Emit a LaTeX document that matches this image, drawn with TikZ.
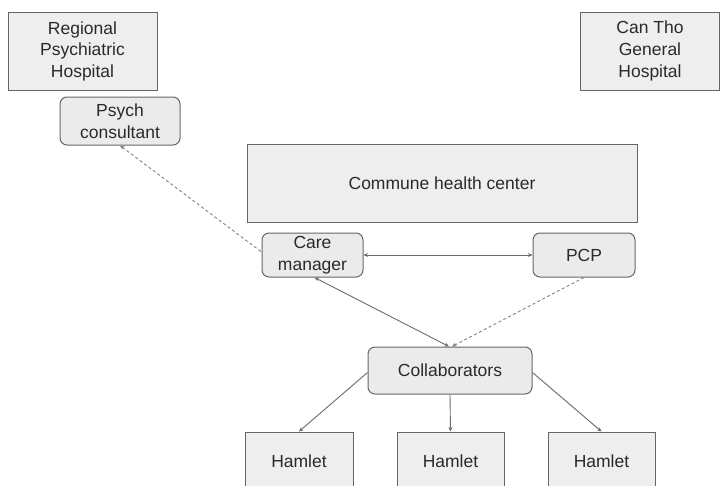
\documentclass[tikz,border=0pt]{standalone}
\usepackage{fontspec}
\setmainfont{Liberation Sans}
\usetikzlibrary{arrows.meta}
\definecolor{boxfill}{HTML}{EEEEEE}
\definecolor{rfill}{HTML}{EBEBEB}
\definecolor{edge}{HTML}{666666}
\definecolor{txt}{HTML}{2A2A2A}
\definecolor{conn}{HTML}{6A6A6A}
\tikzset{
  sqbox/.style={draw=edge, fill=boxfill, line width=1pt, text=txt, align=center, inner sep=0pt, font=\fontsize{17.5}{22}\selectfont},
  rbox/.style={sqbox, fill=rfill, rounded corners=7pt},
  link/.style={draw=conn, line width=0.9pt, -{Stealth[length=4.5pt,width=4pt]}},
  dlink/.style={link, dash pattern=on 3pt off 2.5pt, draw=conn!85},
}
\begin{document}
\begin{tikzpicture}[x=1pt,y=-1pt]
\useasboundingbox (0,0) rectangle (723,485);
\node[sqbox, minimum width=149pt, minimum height=78pt] (rph) at (82.5,51) {\raisebox{-1pt}{Regional}\\Psychiatric\\Hospital};
\node[rbox, minimum width=120pt, minimum height=48pt] (psych) at (120,121) {Psych\\consultant};
\node[sqbox, minimum width=139pt, minimum height=78pt] (cantho) at (650,51) {Can Tho\\General\\Hospital};
\node[sqbox, minimum width=390pt, minimum height=78pt] (chc) at (442,183) {Commune health center};
\node[rbox, minimum width=101pt, minimum height=44pt] (care) at (312.5,255) {Care\\manager};
\node[rbox, minimum width=102pt, minimum height=44pt] (pcp) at (584,255) {PCP};
\node[rbox, minimum width=164pt, minimum height=47pt] (coll) at (450,370.5) {Collaborators};
\node[sqbox, minimum width=108pt, minimum height=64pt] (h1) at (299,464) {\raisebox{5pt}{Hamlet}};
\node[sqbox, minimum width=107pt, minimum height=64pt] (h2) at (450.5,464) {\raisebox{5pt}{Hamlet}};
\node[sqbox, minimum width=107pt, minimum height=64pt] (h3) at (601.5,464) {\raisebox{5pt}{Hamlet}};
\draw[link, {Stealth[length=4.5pt,width=4pt]}-{Stealth[length=4.5pt,width=4pt]}] (care) -- (pcp);
\draw[link, {Stealth[length=4.5pt,width=4pt]}-{Stealth[length=4.5pt,width=4pt]}] ([xshift=2pt]care.south) -- ([xshift=-1pt]coll.north);
\draw[dlink] (pcp.south) -- ([xshift=2pt]coll.north);
\draw[dlink, {Stealth[length=4.5pt,width=4pt]}-] (psych.south) -- ([yshift=3pt]care.west);
\draw[link] ([yshift=-2pt]coll.west) -- (h1.north);
\draw[link] (coll.south) -- (h2.north);
\draw[link] ([yshift=-2pt]coll.east) -- (h3.north);
\end{tikzpicture}
\end{document}
